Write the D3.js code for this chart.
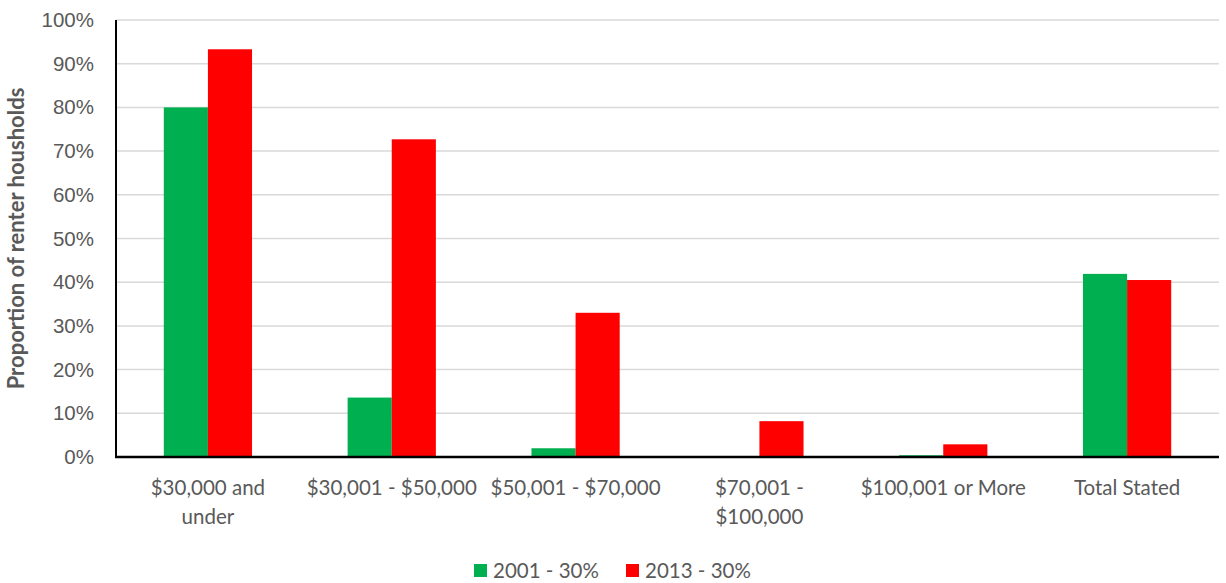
<!DOCTYPE html>
<html>
<head>
<meta charset="utf-8">
<script src="https://cdn.jsdelivr.net/npm/d3@7"></script>
<style>
  body { margin: 0; background: #fff; }
  svg { display: block; font-family: Lato, "Open Sans", sans-serif; }
</style>
</head>
<body>
<svg id="chart" width="1226" height="583"></svg>
<script>
// Income brackets (multi-line labels split on "\n")
const categories = [
  "$30,000 and\nunder",
  "$30,001 - $50,000",
  "$50,001 - $70,000",
  "$70,001 -\n$100,000",
  "$100,001 or More",
  "Total Stated"
];
const seriesNames = ["2001 - 30%", "2013 - 30%"];
const values2001 = [0.800, 0.136, 0.020, 0.000, 0.004, 0.419];
const values2013 = [0.933, 0.727, 0.330, 0.082, 0.029, 0.405];
const yTicks = [0, 0.1, 0.2, 0.3, 0.4, 0.5, 0.6, 0.7, 0.8, 0.9, 1.0];
const colors = ["#00B050", "#FF0000"];

const svg = d3.select("#chart");
const margin = { left: 116, right: 7, top: 20, bottom: 126 };
const W = 1226, H = 583;
const plotW = W - margin.left - margin.right;
const plotH = H - margin.top - margin.bottom;
const fontSize = 20.5;

const g = svg.append("g").attr("transform", `translate(${margin.left},${margin.top})`);

const x = d3.scaleBand().domain(categories).range([0, plotW]).paddingInner(0.52).paddingOuter(0.26);
const xs = d3.scaleBand().domain(seriesNames).range([0, x.bandwidth()]);
const y = d3.scaleLinear().domain([0, 1]).range([plotH, 0]);

// Horizontal gridlines
g.append("g").selectAll("line").data(yTicks.filter(t => t > 0)).join("line")
  .attr("x1", 0).attr("x2", plotW)
  .attr("y1", d => y(d)).attr("y2", d => y(d))
  .attr("stroke", "#d9d9d9").attr("stroke-width", 1.5);

// Y axis labels
const yAxis = g.append("g").call(d3.axisLeft(y).tickValues(yTicks).tickFormat(d3.format(".0%")).tickSize(0).tickPadding(22));
yAxis.select(".domain").remove();
yAxis.selectAll("text").attr("fill", "#595959").attr("font-size", fontSize);

// Bars
const data = categories.map((c, i) => ({ cat: c, vals: [values2001[i], values2013[i]] }));
const groups = g.append("g").selectAll("g").data(data).join("g")
  .attr("transform", d => `translate(${x(d.cat)},0)`);
groups.selectAll("rect").data(d => d.vals.map((v, j) => ({ v, s: seriesNames[j], j }))).join("rect")
  .attr("x", d => xs(d.s))
  .attr("width", xs.bandwidth())
  .attr("y", d => y(d.v))
  .attr("height", d => plotH - y(d.v))
  .attr("fill", d => colors[d.j]);

// Axis lines
g.append("line").attr("x1", 0).attr("x2", 0).attr("y1", 0).attr("y2", plotH)
  .attr("stroke", "#000").attr("stroke-width", 2);
g.append("line").attr("x1", -1).attr("x2", plotW).attr("y1", plotH).attr("y2", plotH)
  .attr("stroke", "#000").attr("stroke-width", 2.5);

// X category labels
const xl = g.append("g").selectAll("text").data(categories).join("text")
  .attr("x", d => x(d) + x.bandwidth() / 2)
  .attr("y", plotH + 38)
  .attr("text-anchor", "middle")
  .attr("fill", "#595959").attr("font-size", fontSize);
xl.selectAll("tspan").data(d => d.split("\n")).join("tspan")
  .attr("x", function () { return d3.select(this.parentNode).attr("x"); })
  .attr("dy", (d, i) => i === 0 ? 0 : 29)
  .text(d => d);

// Y axis title
svg.append("text")
  .attr("transform", `translate(24,${margin.top + plotH / 2}) rotate(-90)`)
  .attr("text-anchor", "middle")
  .attr("font-weight", "bold").attr("font-size", 22)
  .attr("fill", "#595959")
  .text("Proportion of renter housholds");

// Legend
const legend = svg.append("g").attr("transform", "translate(474,564)");
const items = [{ name: seriesNames[0], x: 0 }, { name: seriesNames[1], x: 152 }];
items.forEach((it, i) => {
  legend.append("rect").attr("x", it.x).attr("y", 0).attr("width", 13).attr("height", 13).attr("fill", colors[i]);
  legend.append("text").attr("x", it.x + 19).attr("y", 14).attr("font-size", fontSize).attr("fill", "#595959").text(it.name);
});
</script>
</body>
</html>
